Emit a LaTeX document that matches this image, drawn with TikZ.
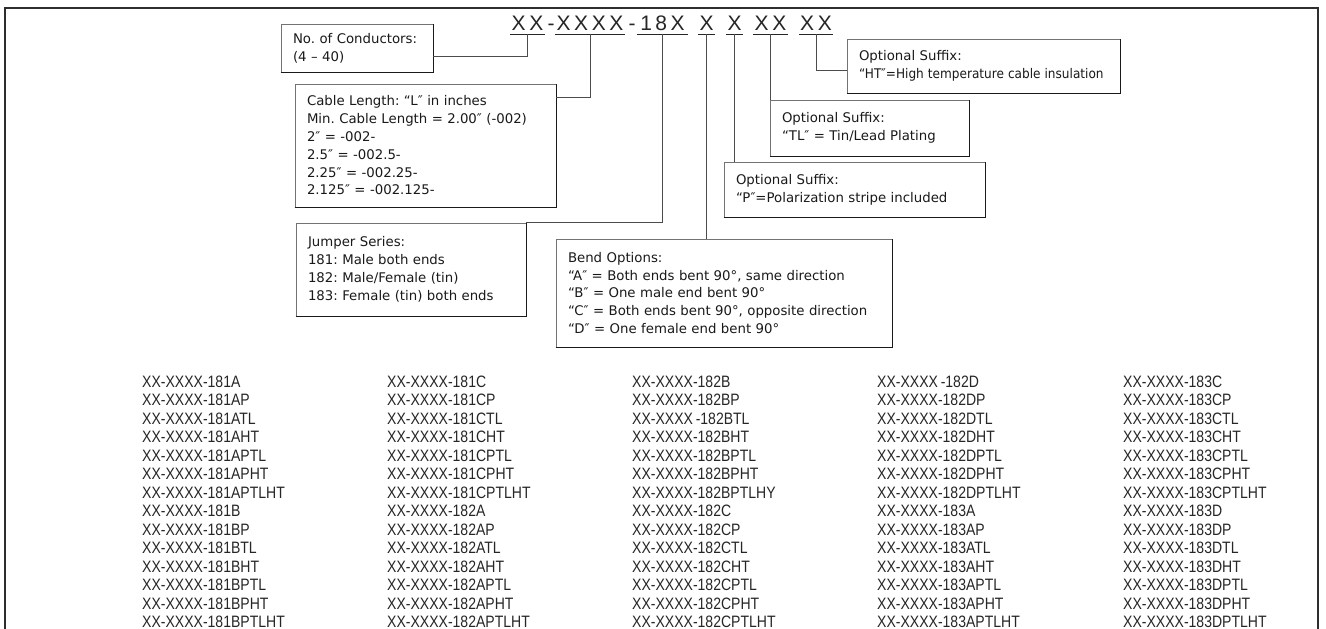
\documentclass[tikz,border=0pt]{standalone}
\usepackage{fontspec}
\setmainfont{Liberation Sans}
\newfontfamily\boxfont{DejaVu Sans}
\newfontfamily\hdrfont[LetterSpace=17]{Liberation Sans}
\newfontfamily\listfont[FakeStretch=0.85]{Liberation Sans}
\frenchspacing
\begin{document}
\begin{tikzpicture}[x=1pt,y=-1pt,
  hdr/.style={font=\hdrfont\fontsize{21}{24}\selectfont, inner xsep=0pt, inner ysep=0pt, anchor=base, text=black!85},
  infobox/.style={draw=black!55, line width=0.7pt, inner xsep=12pt, inner ysep=0pt, align=left, font=\boxfont\fontsize{13.3}{17.8}\selectfont\frenchspacing, text=black!90},
  conn/.style={draw=black!70, line width=0.9pt},
  item/.style={font=\listfont\fontsize{16.5}{18}\selectfont, anchor=base west, inner sep=0pt, text=black!85},
  uline/.style={line width=0.9pt, black!85},
  shadowline/.style={line width=1.5pt, black!90}
]
\useasboundingbox (0,0) rectangle (1326,629);
% outer frame
\draw[line width=2.5pt, black!82] (5,660) -- (5,8) -- (1318,8) -- (1318,660);

% header code
\node[hdr, minimum width=35pt] (g1) at (527.5,30.5) {XX};
\node[hdr] (h1) at (551,30.5) {-};
\node[hdr, minimum width=70pt] (g2) at (590,30.5) {XXXX};
\node[hdr] (h2) at (632,30.5) {-};
\node[hdr, minimum width=51pt] (g3) at (662.5,30.5) {18X};
\node[hdr, minimum width=17pt] (g4) at (706.5,30.5) {X};
\node[hdr, minimum width=17pt] (g5) at (734.5,30.5) {X};
\node[hdr, minimum width=35pt] (g6) at (770.5,30.5) {XX};
\node[hdr, minimum width=34pt] (g7) at (816,30.5) {XX};
\foreach \g in {g1,g2,g3,g4,g5,g6,g7}{
  \draw[uline] ([yshift=-3.5pt]\g.base west) -- ([yshift=-3.5pt]\g.base east);
  \coordinate (\g-u) at ([yshift=-3.5pt]\g.base);
}

% boxes
\node[infobox, minimum width=152pt, text width=128pt, minimum height=48pt] (cond) at (357,48)
  {No. of Conductors:\\(4 – 40)};
\node[infobox, minimum width=261pt, text width=237pt, minimum height=123pt] (cable) at (425.5,145.5)
  {Cable Length: “L″ in inches\\Min. Cable Length = 2.00″ (-002)\\2″ = -002-\\2.5″ = -002.5-\\2.25″ = -002.25-\\2.125″ = -002.125-};
\node[infobox, minimum width=230pt, text width=206pt, minimum height=93pt] (jump) at (411,269.5)
  {Jumper Series:\\181: Male both ends\\182: Male/Female (tin)\\183: Female (tin) both ends};
\node[infobox, minimum width=336pt, text width=312pt, minimum height=108pt] (bend) at (724,293)
  {Bend Options:\\“A″ = Both ends bent 90°, same direction\\“B″ = One male end bent 90°\\“C″ = Both ends bent 90°, opposite direction\\“D″ = One female end bent 90°};
\node[infobox, minimum width=261pt, text width=237pt, minimum height=55pt] (pbox) at (854.5,189.5)
  {Optional Suffix:\\“P″=Polarization stripe included};
\node[infobox, minimum width=199pt, text width=175pt, minimum height=56pt] (tl) at (869.5,128)
  {Optional Suffix:\\“TL″ = Tin/Lead Plating};
\node[infobox, minimum width=273pt, text width=249pt, minimum height=54pt] (ht) at (983.5,66)
  {Optional Suffix:\\\scalebox{0.91}[1]{“HT″=High temperature cable insulation}};
\foreach \b in {cond,cable,jump,bend,pbox,tl,ht}
  \draw[shadowline] (\b.south west) -- (\b.south east) -- (\b.north east);

% connectors
\draw[conn] (g1-u) |- ([yshift=-8pt]cond.east);
\draw[conn] (g2-u) |- ([yshift=-14pt]cable.north east);
\draw[conn] (g3-u) |- (jump.north east);
\draw[conn] (g4-u) -- (g4-u |- bend.north);
\draw[conn] (g5-u) -- (g5-u |- pbox.north);
\draw[conn] (g6-u) -- (g6-u |- tl.north);
\draw[conn] (g7-u) |- ([yshift=-4pt]ht.west);

% part number list
\foreach \cx/\items [count=\c] in {
  142/{-181A,-181AP,-181ATL,-181AHT,-181APTL,-181APHT,-181APTLHT,-181B,-181BP,-181BTL,-181BHT,-181BPTL,-181BPHT,-181BPTLHT},
  387/{-181C,-181CP,-181CTL,-181CHT,-181CPTL,-181CPHT,-181CPTLHT,-182A,-182AP,-182ATL,-182AHT,-182APTL,-182APHT,-182APTLHT},
  632/{-182B,-182BP,\,-182BTL,-182BHT,-182BPTL,-182BPHT,-182BPTLHY,-182C,-182CP,-182CTL,-182CHT,-182CPTL,-182CPHT,-182CPTLHT},
  877/{\,-182D,-182DP,-182DTL,-182DHT,-182DPTL,-182DPHT,-182DPTLHT,-183A,-183AP,-183ATL,-183AHT,-183APTL,-183APHT,-183APTLHT},
  1123/{-183C,-183CP,-183CTL,-183CHT,-183CPTL,-183CPHT,-183CPTLHT,-183D,-183DP,-183DTL,-183DHT,-183DPTL,-183DPHT,-183DPTLHT}}{
  \foreach \s [count=\r] in \items {
    \node[item] (p\c-\r) at (\cx,{387+18.5*(\r-1)}) {XX-XXXX\s};
  }
}
\end{tikzpicture}
\end{document}
